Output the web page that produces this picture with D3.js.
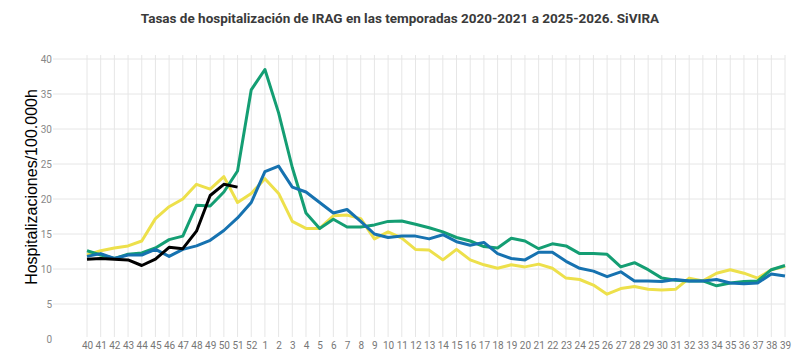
<!DOCTYPE html>
<html><head><meta charset="utf-8">
<script src="https://cdn.jsdelivr.net/npm/d3@7"></script>
<style>body{margin:0;background:#fff;} svg{display:block;}</style>
</head><body>
<svg id="chart" width="800" height="357"></svg>
<script>
const weeks = ["40","41","42","43","44","45","46","47","48","49","50","51","52",
  "1","2","3","4","5","6","7","8","9","10","11","12","13","14","15","16","17","18","19","20",
  "21","22","23","24","25","26","27","28","29","30","31","32","33","34","35","36","37","38","39"];
const yTicks = [0,5,10,15,20,25,30,35,40];

const serieAmarilla = [12.0,12.6,13.0,13.3,14.0,17.2,18.9,20.0,22.1,21.4,23.2,19.5,20.8,
  22.9,20.8,16.8,15.8,15.8,17.6,17.7,17.2,14.3,15.3,14.4,12.8,12.7,11.3,12.8,11.3,10.6,10.1,10.6,10.3,
  10.7,10.1,8.7,8.5,7.7,6.4,7.2,7.5,7.1,7.0,7.1,8.7,8.3,9.4,9.9,9.4,8.7,9.9,10.4];
const serieVerde = [12.6,12.0,11.5,12.1,12.3,13.0,14.2,14.7,19.1,19.0,21.0,24.0,35.6,
  38.5,32.3,24.5,18.0,15.8,17.1,16.0,16.0,16.3,16.8,16.85,16.4,15.9,15.3,14.5,14.0,13.2,13.0,14.4,14.0,
  12.9,13.6,13.3,12.2,12.2,12.1,10.3,10.9,9.9,8.7,8.4,8.3,8.3,7.6,8.0,8.2,8.3,9.9,10.5];
const serieAzul = [11.8,12.2,11.5,12.0,12.0,12.8,11.8,12.8,13.3,14.1,15.5,17.3,19.5,
  23.9,24.7,21.7,21.0,19.5,18.0,18.5,16.8,15.0,14.5,14.7,14.7,14.3,14.9,13.9,13.4,13.8,12.2,11.5,11.3,
  12.4,12.4,11.1,10.1,9.7,8.9,9.6,8.3,8.3,8.2,8.5,8.3,8.3,8.5,8.0,7.9,8.0,9.3,9.0];
const serieNegra = [11.4,11.5,11.4,11.3,10.5,11.4,13.1,12.9,15.4,20.5,22.1,21.7];

const series = [
  {values: serieAmarilla, color: "#EDE04B"},
  {values: serieVerde, color: "#149E73"},
  {values: serieAzul, color: "#1672B0"},
  {values: serieNegra, color: "#000000"}
];

const svg = d3.select("#chart");
const x = d3.scalePoint().domain(weeks).range([87, 785]);
const y = d3.scaleLinear().domain([0, 40]).range([339, 59]);

// title
svg.append("text").attr("x", 400).attr("y", 23).attr("text-anchor", "middle")
  .style("font-family", "Roboto").style("font-weight", "bold").style("font-size", "13.5px")
  .style("fill", "#3a3a3a")
  .text("Tasas de hospitalización de IRAG en las temporadas 2020-2021 a 2025-2026. SiVIRA");

// horizontal grid
svg.append("g").selectAll("line").data(yTicks.filter(d => d > 0)).join("line")
  .attr("x1", 53).attr("x2", 785)
  .attr("y1", d => y(d)).attr("y2", d => y(d))
  .attr("stroke", "#e6e6e6").attr("stroke-width", 1);

// vertical grid
svg.append("g").selectAll("line").data(weeks).join("line")
  .attr("x1", d => x(d)).attr("x2", d => x(d))
  .attr("y1", 55).attr("y2", 337)
  .attr("stroke", "#e6e6e6").attr("stroke-width", 1);

// y axis labels
const yAxis = d3.axisLeft(y).tickValues(yTicks).tickSize(0).tickPadding(0);
const gy = svg.append("g").attr("transform", "translate(52,0)").call(yAxis);
gy.select(".domain").remove();
gy.selectAll("text").style("font-family", "Roboto").style("font-size", "10px").style("fill", "#888");

// x axis labels
const xAxis = d3.axisBottom(x).tickSize(0).tickPadding(0);
const gx = svg.append("g").attr("transform", "translate(0,342)").call(xAxis);
gx.select(".domain").remove();
gx.selectAll("text").style("font-family", "Roboto").style("font-size", "10px").style("fill", "#777");

// y axis title
svg.append("text").attr("transform", "translate(37,187) rotate(-90)").attr("text-anchor", "middle")
  .style("font-family", "Liberation Sans, Arial, sans-serif").style("font-size", "16px").style("fill", "#000")
  .text("Hospitalizaciones/100.000h");

// lines
const line = d3.line().x((d, i) => x(weeks[i])).y(d => y(d));
svg.append("g").selectAll("path").data(series).join("path")
  .attr("d", d => line(d.values))
  .attr("fill", "none").attr("stroke", d => d.color).attr("stroke-width", 3)
  .attr("stroke-linejoin", "round").attr("stroke-linecap", "butt");
</script>
</body></html>
